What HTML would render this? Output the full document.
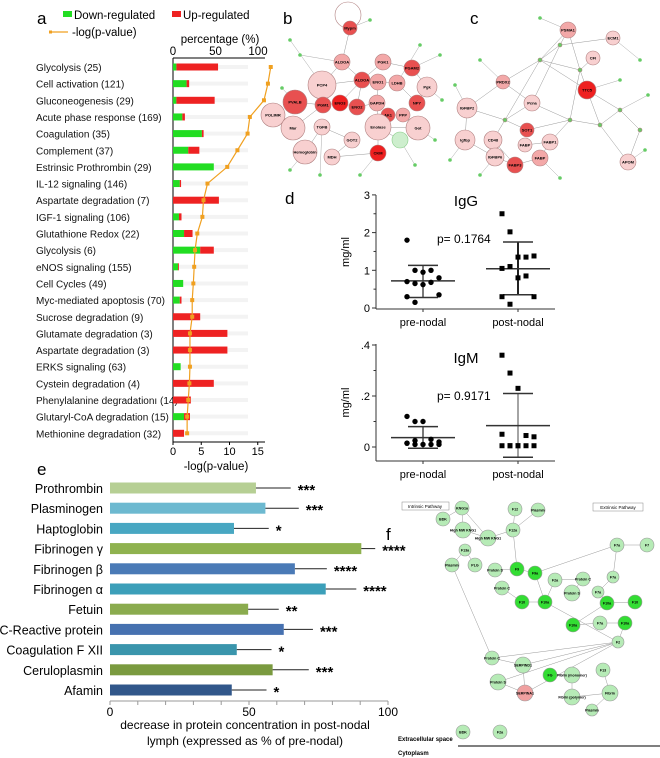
<!DOCTYPE html>
<html><head><meta charset="utf-8"><style>
body{margin:0;background:#fff}
svg{display:block;font-family:"Liberation Sans",sans-serif}
</style></head><body>
<svg id="fig" width="660" height="758" viewBox="0 0 660 758" xmlns="http://www.w3.org/2000/svg">
<g id="pa"></g>
<g id="pb"></g>
<g id="pc"></g>
<g id="pd"></g>
<g id="pe"></g>
<g id="pf"></g>
</svg>
<script>
// ---------- Panel a data ----------
const pathways = ["Glycolysis  (25)","Cell activation  (121)","Gluconeogenesis  (29)","Acute phase response (169)","Coagulation  (35)","Complement  (37)","Estrinsic Prothrombin  (29)","IL-12 signaling  (146)","Aspartate degradation  (7)","IGF-1 signaling  (106)","Glutathione Redox  (22)","Glycolysis   (6)","eNOS signaling  (155)","Cell Cycles  (49)","Myc-mediated apoptosis  (70)","Sucrose degradation   (9)","Glutamate degradation  (3)","Aspartate degradation  (3)","ERKS signaling  (63)","Cystein degradation   (4)","Phenylalanine degradation\u0131 (14)","Glutaryl-CoA degradation  (15)","Methionine degradation    (32)"];
const downPct = [4,16,4,11,34,18,48,8,0,7,13,32,6,12,8,0,0,0,9,0,0,13,0];
const upPct = [49,3,45,3,2,13,0,1.5,54,3,10,16,1,0,2,32,64,64,0,48,21,7,13];
const negLogP = [17.3,16.8,16.1,13.6,13.2,11.4,9.6,6.1,5.4,5.2,4.3,3.9,3.75,3.6,3.4,3.4,3.0,3.0,3.0,2.9,2.7,2.5,2.5];
const pctTicks = [0,50,100];
const logTicks = [0,5,10,15];

// ---------- Panel d data ----------
const iggPre = [1.8,1.0,0.95,1.0,0.8,0.7,0.65,0.62,0.68,0.35,0.3,0.15];
const iggPost = [2.5,2.02,1.35,1.35,1.38,1.05,1.1,0.8,0.85,0.3,0.3,0.1];
const iggStats = {pre:[0.72,0.28,1.13], post:[1.04,0.35,1.75]};
const igmPre = [0.12,0.1,0.1,0.03,0.02,0.015,0.01,0.01,0.01,0.01,0.015,0.025];
const igmPost = [0.36,0.29,0.23,0.045,0.04,0.05,0.005,0.005,0.005,0.005,0.005,0.005,0.005];
const igmStats = {pre:[0.037,-0.005,0.08], post:[0.084,-0.04,0.21]};
const iggTicks = [0,1,2,3];
const igmTicks = [0,0.2,0.4];
const igmTickLabels = ["0",".2",".4"];

// ---------- Panel e data ----------
const proteins = ["Prothrombin","Plasminogen","Haptoglobin","Fibrinogen \u03b3","Fibrinogen \u03b2","Fibrinogen \u03b1","Fetuin","C-Reactive protein","Coagulation F XII","Ceruloplasmin","Afamin"];
const decrease = [52.5,55.9,44.6,90.4,66.5,77.6,49.7,62.5,45.6,58.5,43.8];
const errs = [12.5,12,12.5,5,11.5,11,11,10.5,12.5,13,12.5];
const stars = ["***","***","*","****","****","****","**","***","*","***","*"];
const eTicks = [0,50,100];

const NS="http://www.w3.org/2000/svg";
function mk(parent,tag,attrs,text){const e=document.createElementNS(NS,tag);for(const k in attrs)e.setAttribute(k,attrs[k]);if(text!==undefined)e.textContent=text;parent.appendChild(e);return e;}

// ===== Panel a =====
(function(){
const g=document.getElementById('pa');
const x0=173, pxPct=0.85, pxLog=5.65, rowY=i=>67+i*16.65;
const xp=v=>x0+v*pxPct, xl=v=>x0+v*pxLog;
let t=mk(g,'text',{x:37,y:24,'font-size':17},'a');
let r=mk(g,'rect',{x:63,y:11,width:9,height:6,fill:'#22dd22'});
t=mk(g,'text',{x:74,y:19,'font-size':11.5},'Down-regulated');
r=mk(g,'rect',{x:172,y:11,width:9,height:6,fill:'#ee2222'});
t=mk(g,'text',{x:183,y:19,'font-size':11.5},'Up-regulated');
let l=mk(g,'line',{x1:49,y1:32,x2:68,y2:32,stroke:'#f0a020','stroke-width':1.2});
mk(g,'rect',{x:49,y:30.5,width:3,height:3,fill:'#f0a020'});
t=mk(g,'text',{x:72,y:36,'font-size':11.5},'-log(p-value)');
t=mk(g,'text',{x:220,y:43,'font-size':11.5,'text-anchor':'middle'},'percentage (%)');
l=mk(g,'line',{x1:173,y1:58,x2:265,y2:58,stroke:'#000'});
pctTicks.forEach(v=>{t=mk(g,'text',{x:xp(v),y:55,'font-size':11.5,'text-anchor':'middle'},String(v));});
l=mk(g,'line',{x1:173,y1:58,x2:173,y2:442,stroke:'#000'});
l=mk(g,'line',{x1:173,y1:442,x2:265,y2:442,stroke:'#000'});
logTicks.forEach(v=>{l=mk(g,'line',{x1:xl(v),y1:442,x2:xl(v),y2:445,stroke:'#000'});t=mk(g,'text',{x:xl(v),y:455,'font-size':11,'text-anchor':'middle'},String(v));});
t=mk(g,'text',{x:216,y:470,'font-size':11.5,'text-anchor':'middle'},'-log(p-value)');
pathways.forEach((p,i)=>{
 const y=rowY(i);
 mk(g,'line',{x1:174,y1:y,x2:248,y2:y,stroke:'#f3f3f3','stroke-width':4});
 t=mk(g,'text',{x:36,y:y+4,'font-size':10,fill:'#111'},p);
 if(downPct[i]>0){r=mk(g,'rect',{x:x0,y:y-3.5,width:downPct[i]*pxPct,height:7,fill:'#22dd22'});}
 if(upPct[i]>0){r=mk(g,'rect',{x:xp(downPct[i]),y:y-3.5,width:upPct[i]*pxPct,height:7,fill:'#ee2222'});}
});
const pts=negLogP.map((v,i)=>xl(v)+','+rowY(i)).join(' ');
l=mk(g,'polyline',{points:pts,fill:'none',stroke:'#f0a020','stroke-width':1.2});
negLogP.forEach((v,i)=>{r=mk(g,'rect',{x:xl(v)-2,y:rowY(i)-2,width:4,height:4,fill:'#f0a020'});});
})();

// ===== Networks =====
function network(gid,label,lx,ly,nodes,edges,smalls){
 const g=document.getElementById(gid);
 let t=mk(g,'text',{x:lx,y:ly,'font-size':17},label);
 edges.forEach(e=>{const a=nodes[e[0]],b=nodes[e[1]];mk(g,'line',{x1:a[0],y1:a[1],x2:b[0],y2:b[1],stroke:'#999','stroke-width':0.5});});
 smalls.forEach(s=>{const a=nodes[s[0]];mk(g,'line',{x1:a[0],y1:a[1],x2:s[1],y2:s[2],stroke:'#aaa','stroke-width':0.5});const c=mk(g,'circle',{cx:s[1],cy:s[2],r:1.8,fill:'#66cc66'});});
 nodes.forEach(n=>{const c=mk(g,'circle',{cx:n[0],cy:n[1],r:n[2],fill:n[3],stroke:n[5]||'#b08080','stroke-width':0.6});
  if(n[4]){t=mk(g,'text',{x:n[0],y:n[1]+1.5,'font-size':4,'text-anchor':'middle','font-weight':'bold'},n[4]);}});
}
const P1='#f8d0d0',P2='#f3a8a8',R1='#e85050',R2='#ee2020';
const bNodes=[[348,15,13,'none',''],[350,28,7,R1,'Mypm'],[322,85,14,P1,'PCP4'],[295,102,12,R1,'PVALB'],[273,115,12,P1,'POLIMR'],[293,128,12,P1,'Mar'],[305,152,12,P1,'Hemoglobin'],[342,62,8,P2,'ALDOA'],[362,80,8,R1,'ALDOA'],[383,62,8,P2,'PGK1'],[412,68,8,R1,'PGAM2'],[378,82,8,P2,'ENO1'],[397,83,8,P2,'LDHB'],[427,87,10,P1,'Pgk'],[323,105,8,R1,'PGM1'],[340,103,8,R2,'ENO3'],[357,107,8,R1,'ENO2'],[377,103,8,P2,'GAPDH'],[417,103,8,R1,'NPY'],[388,115,7,R1,'AK1'],[403,115,7,P2,'PPP'],[378,127,13,P1,'Enolase'],[418,128,12,P1,'Got'],[400,140,8,'#cdeecd','',"#8c8"],[322,127,8,P1,'TGFB'],[352,140,8,P1,'GOT2'],[332,157,8,P1,'MDH'],[378,153,8,R2,'CKM']];
const bEdges=[[2,7],[2,8],[2,14],[3,14],[7,8],[8,9],[9,10],[10,13],[11,12],[12,18],[14,15],[15,16],[16,17],[17,21],[21,22],[21,23],[19,20],[24,25],[25,26],[26,27],[8,15],[8,16],[11,17],[5,14],[6,24],[1,7],[13,18],[22,20],[27,21]];
const bSmall=[[2,290,40],[1,370,20],[7,300,55],[10,440,55],[13,442,100],[22,435,140],[27,360,175],[23,415,165],[3,282,88],[24,320,175],[12,420,45],[6,290,170]];
network('pb','b',283,24,bNodes,bEdges,bSmall);
const cNodes=[[568,30,8,P2,'PSMA1'],[613,38,7,P1,'ECM1'],[593,58,7,P1,'CFI'],[503,82,7,P2,'PRDX2'],[587,90,9,R2,'TTC5'],[532,103,8,P1,'Pcna'],[467,108,10,P1,'IGFBP2'],[527,130,7,R1,'SOT1'],[465,140,10,P1,'Igfbp'],[493,140,9,P1,'CD48'],[525,145,7,P1,'FABP'],[550,142,8,P1,'FABP1'],[495,157,9,P1,'IGFBP6'],[540,158,8,P2,'FABP'],[515,165,8,R1,'FABP3'],[628,162,8,P1,'APOM'],[560,45,2,'#6c6'],[580,70,2,'#6c6'],[540,60,2,'#6c6'],[620,110,2,'#6c6'],[600,125,2,'#6c6'],[570,120,2,'#6c6'],[505,120,2,'#6c6'],[640,130,2,'#6c6']];
const cEdges=[[0,16],[0,17],[1,16],[2,17],[16,18],[17,18],[18,3],[18,4],[4,17],[4,19],[4,20],[19,20],[20,21],[21,11],[21,7],[5,22],[22,6],[22,7],[22,9],[8,6],[8,12],[9,14],[10,11],[11,13],[13,14],[15,20],[15,23],[19,23],[3,5],[5,21],[0,18],[12,14],[6,3],[16,5],[17,21],[18,22]];
const cSmall=[[3,480,60],[6,455,85],[8,450,160],[12,480,175],[15,645,150],[1,640,60],[0,540,18],[4,620,80],[13,560,178],[19,648,95]];
network('pc','c',470,24,cNodes,cEdges,cSmall);

// ===== Panel d =====
(function(){
const g=document.getElementById('pd');
let t=mk(g,'text',{x:285,y:204,'font-size':17},'d');
function scatter(name,ytop,y0,ppu,ticks,tlabels,pre,post,stats,title,ty,pv,axisY,minor){
 const yv=v=>y0-v*ppu; const xa=376, xPre=423, xPost=518;
 let l=mk(g,'line',{x1:xa,y1:ytop,x2:xa,y2:axisY,stroke:'#333'});
 l=mk(g,'line',{x1:xa,y1:axisY,x2:555,y2:axisY,stroke:'#333'});
 ticks.forEach((v,i)=>{mk(g,'line',{x1:xa-4,y1:yv(v),x2:xa,y2:yv(v),stroke:'#333'});t=mk(g,'text',{x:xa-6,y:yv(v)+4,'font-size':11,'text-anchor':'end'},tlabels[i]);});
 minor.forEach(v=>mk(g,'line',{x1:xa-2.5,y1:yv(v),x2:xa,y2:yv(v),stroke:'#333'}));
 [xPre,xPost].forEach((x,i)=>{mk(g,'line',{x1:x,y1:axisY,x2:x,y2:axisY+3,stroke:'#333'});t=mk(g,'text',{x:x,y:axisY+17,'font-size':11,'text-anchor':'middle'},i?'post-nodal':'pre-nodal');});
 t=mk(g,'text',{x:0,y:0,'font-size':11,'text-anchor':'middle',transform:`translate(349,${(ytop+axisY)/2}) rotate(-90)`},'mg/ml');
 t=mk(g,'text',{x:466,y:ty,'font-size':15,'text-anchor':'middle'},title);
 t=mk(g,'text',{x:437,y:ty+37,'font-size':12},pv);
 [[xPre,pre,stats.pre,0],[xPost,post,stats.post,1]].forEach(([x,vals,s,sq])=>{
  mk(g,'line',{x1:x,y1:yv(s[1]),x2:x,y2:yv(s[2]),stroke:sq&&name==='igm'?'#666':'#222','stroke-width':sq&&name==='igg'?2:1.2});
  mk(g,'line',{x1:x-15,y1:yv(s[1]),x2:x+15,y2:yv(s[1]),stroke:'#333','stroke-width':1.5});
  mk(g,'line',{x1:x-15,y1:yv(s[2]),x2:x+15,y2:yv(s[2]),stroke:'#333','stroke-width':1.5});
  l=mk(g,'line',{x1:x-32,y1:yv(s[0]),x2:x+32,y2:yv(s[0]),stroke:'#333','stroke-width':1.5});
  vals.forEach((v,i)=>{const off=((i%5)-2)*8;const x2=x+off;
   let m;
   if(sq){m=mk(g,'rect',{x:x2-2.5,y:yv(v)-2.5,width:5,height:5,fill:'#000'});}
   else{m=mk(g,'circle',{cx:x2,cy:yv(v),r:2.7,fill:'#000'});}
   });
 });
}
scatter('igg',195,308,37.7,iggTicks,iggTicks.map(String),iggPre,iggPost,iggStats,'IgG',206,'p= 0.1764',309,[0.5,1.5,2.5]);
scatter('igm',344,447,255,igmTicks,igmTickLabels,igmPre,igmPost,igmStats,'IgM',363,'p= 0.9171',461,[0.1,0.3]);
})();

// ===== Panel e =====
(function(){
const g=document.getElementById('pe');
const colors=['#b6cf94','#6db9d0','#48a7c2','#8fb24f','#4a7ab6','#3c9fb9','#8aab4e','#4671b0','#3a95ac','#7a9a3f','#31578a'];
const x0=110, ppu=2.78, xv=v=>x0+v*ppu, rowY=i=>488+i*20.2;
let t=mk(g,'text',{x:37,y:475,'font-size':17},'e');
proteins.forEach((p,i)=>{const y=rowY(i);
 t=mk(g,'text',{x:103,y:y+5,'font-size':12.5,'text-anchor':'end'},p);
 let r=mk(g,'rect',{x:x0,y:y-5.5,width:decrease[i]*ppu,height:11,fill:colors[i]});
 let l=mk(g,'line',{x1:xv(decrease[i]),y1:y,x2:xv(decrease[i]+errs[i]),y2:y,stroke:'#222','stroke-width':1});
 t=mk(g,'text',{x:xv(decrease[i]+errs[i])+7,y:y+7,'font-size':15,'font-weight':'bold'},stars[i]);
});
let l=mk(g,'line',{x1:x0,y1:701,x2:x0+100*ppu,y2:701,stroke:'#999'});
for(let v=0;v<=100;v+=10)mk(g,'line',{x1:xv(v),y1:701,x2:xv(v),y2:705,stroke:'#999'});
eTicks.forEach(v=>{t=mk(g,'text',{x:xv(v),y:716,'font-size':12,'text-anchor':'middle'},String(v));});
t=mk(g,'text',{x:245,y:729,'font-size':12,'text-anchor':'middle'},'decrease in protein concentration in post-nodal');
t=mk(g,'text',{x:245,y:745,'font-size':12,'text-anchor':'middle'},'lymph (expressed as % of pre-nodal)');
})();

// ===== Panel f =====
(function(){
const g=document.getElementById('pf');
const G='#b6ebb6',DG='#33dd33',PK='#f0a0a0';
const nodes=[[443,519,7,G,'BDK'],[462,508,7,G,'KNG1a'],[515,509,7,G,'F12'],[538,510,7,G,'Plasmin'],[463,530,8,G,'High MW KNG1'],[488,538,8,G,'High MW KNG1'],[513,530,7,G,'F12a'],[465,550,6,G,'F13a'],[452,565,7,G,'Plasmin'],[475,565,7,G,'PLG'],[495,570,7,G,'Protein S'],[517,569,7,DG,'F9'],[535,573,7,DG,'F9a'],[555,580,7,G,'F2a'],[583,579,7,G,'Protein C'],[572,593,8,G,'Protein S'],[502,588,7,G,'Protein C'],[522,602,7,DG,'F10'],[545,602,7,DG,'F10a'],[617,545,7,G,'F7a'],[647,545,7,G,'F7'],[613,577,6,G,'F7a'],[598,592,6,G,'F7a'],[607,603,7,DG,'F10a'],[635,602,7,DG,'F10'],[573,625,7,DG,'F10a'],[600,623,7,G,'F7a'],[625,623,7,DG,'F10a'],[618,642,6,G,'F2'],[492,658,7,G,'Protein C'],[523,665,8,G,'SERPIND1'],[498,682,8,G,'Protein S'],[525,693,8,PK,'SERPINA1'],[550,675,7,DG,'FG'],[572,675,8,G,'Fibrin (monomer)'],[603,670,7,G,'F13'],[610,693,8,G,'Fibrin'],[572,697,8,G,'Fibrin (polymer)'],[592,710,6,G,'Plasmin'],[463,732,7,G,'BDK'],[500,732,7,G,'F2a']];
const edges=[[0,1],[1,4],[4,5],[5,6],[2,6],[3,6],[6,11],[11,12],[12,18],[17,18],[18,13],[13,14],[14,15],[19,20],[19,21],[21,22],[22,23],[23,24],[23,25],[25,26],[26,27],[27,28],[18,28],[28,29],[28,30],[28,31],[28,32],[29,30],[30,32],[31,32],[33,34],[34,37],[35,36],[37,36],[36,38],[7,8],[7,9],[8,29],[16,17],[10,11],[5,1],[12,19]];
edges.forEach(e=>{const a=nodes[e[0]],b=nodes[e[1]];mk(g,'line',{x1:a[0],y1:a[1],x2:b[0],y2:b[1],stroke:'#999','stroke-width':0.5});});
let t=mk(g,'text',{x:386,y:540,'font-size':17},'f');
let r=mk(g,'rect',{x:402,y:502,width:47,height:8,fill:'#fff',stroke:'#888','stroke-width':0.5});
t=mk(g,'text',{x:425,y:508,'font-size':4.5,'text-anchor':'middle'},'Intrinsic Pathway');
r=mk(g,'rect',{x:593,y:503,width:50,height:8,fill:'#fff',stroke:'#888','stroke-width':0.5});
t=mk(g,'text',{x:618,y:509,'font-size':4.5,'text-anchor':'middle'},'Extrinsic Pathway');
nodes.forEach(n=>{const c=mk(g,'circle',{cx:n[0],cy:n[1],r:n[2],fill:n[3],stroke:'#999','stroke-width':0.6});
 t=mk(g,'text',{x:n[0],y:n[1]+1.5,'font-size':3.6,'text-anchor':'middle','font-weight':'bold'},n[4]);});
t=mk(g,'text',{x:398,y:741,'font-size':6,'font-weight':'bold'},'Extracellular space');
t=mk(g,'text',{x:398,y:755,'font-size':6,'font-weight':'bold'},'Cytoplasm');
let l=mk(g,'line',{x1:458,y1:746,x2:660,y2:746,stroke:'#555','stroke-width':1.5});
})();
</script>
</body></html>
